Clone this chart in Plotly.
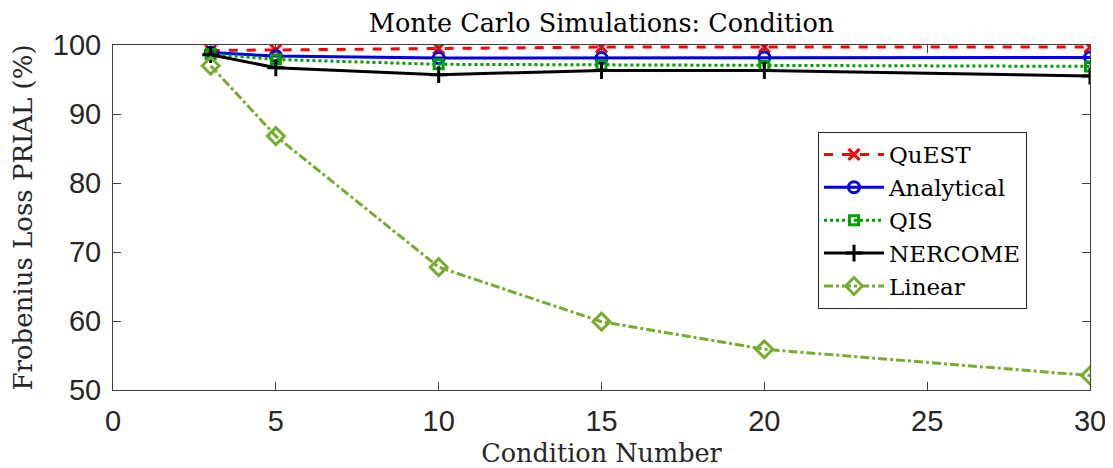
import plotly.graph_objects as go

x_vals = [3, 5, 10, 15, 20, 30]
quest = [99.2, 99.3, 99.5, 99.7, 99.7, 99.7]
analytical = [98.9, 98.4, 98.1, 98.1, 98.2, 98.2]
qis = [98.7, 97.9, 97.2, 97.1, 97.0, 96.9]
nercome = [98.6, 96.7, 95.7, 96.3, 96.3, 95.5]
linear = [97.0, 86.8, 67.8, 59.9, 55.9, 52.1]

series = [
    ("QuEST", quest, "#FF0000", "dash", "x-thin-open", 11),
    ("Analytical", analytical, "#0000E0", "solid", "circle-open", 11),
    ("QIS", qis, "#00A000", "dot", "square-open", 9),
    ("NERCOME", nercome, "#000000", "solid", "cross-thin-open", 12),
    ("Linear", linear, "#77AC30", "dashdot", "diamond-open", 13),
]

SERIF = "DejaVu Serif, serif"

fig = go.Figure()
for name, vals, color, dash, sym, size in series:
    fig.add_trace(go.Scatter(
        x=x_vals, y=vals, name=name, mode="lines+markers",
        line=dict(color=color, width=3, dash=dash),
        marker=dict(symbol=sym, size=size, color=color, line=dict(color=color, width=3)),
    ))

axis_common = dict(
    showline=True, linecolor="#404040", linewidth=1, mirror="ticks",
    ticks="inside", ticklen=8, tickcolor="#404040", showgrid=False, zeroline=False,
    automargin=False, ticklabelstandoff=5,
    tickfont=dict(family="Liberation Sans, Arial, sans-serif", size=29, color="#262626"),
)

fig.update_layout(
    width=1113, height=468,
    margin=dict(l=105, r=31, t=37, b=86),
    paper_bgcolor="white", plot_bgcolor="white",
    title=dict(text="Monte Carlo Simulations: Condition", x=(105 + 1082) / 2 / 1113, xanchor="center",
               y=1 - 15 / 468, yanchor="middle",
               font=dict(family=SERIF, size=25.5, color="#000000")),
    xaxis=dict(range=[0, 30], tickvals=[0, 5, 10, 15, 20, 25, 30],
               title=dict(text="Condition Number", standoff=8,
                          font=dict(family=SERIF, size=25.5, color="#262626")),
               **axis_common),
    yaxis=dict(range=[50, 100], tickvals=[50, 60, 70, 80, 90, 100],
               title=dict(text="Frobenius Loss PRIAL (%)", standoff=13,
                          font=dict(family=SERIF, size=26, color="#262626")),
               **axis_common),
    legend=dict(x=0.7216, y=0.748, xanchor="left", yanchor="top",
                bordercolor="#262626", borderwidth=1, bgcolor="white",
                font=dict(family=SERIF, size=23, color="#000000"),
                tracegroupgap=0, itemwidth=60),
    showlegend=True,
)

fig.write_html("out.html")
